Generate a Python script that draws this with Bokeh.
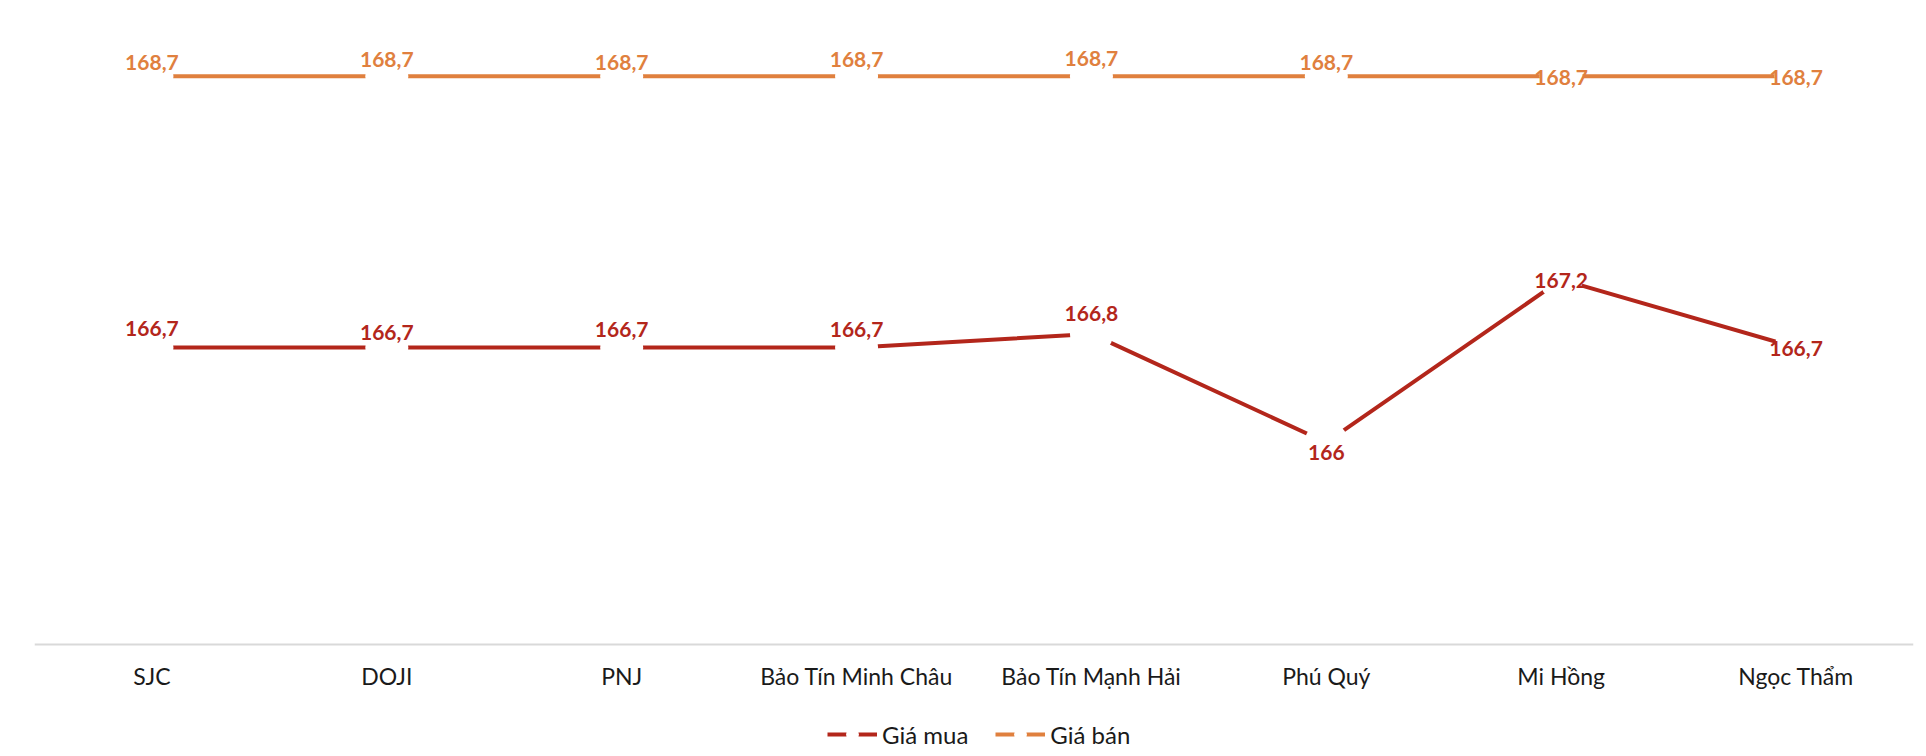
from bokeh.plotting import figure
from bokeh.models import ColumnDataSource, FactorRange, Range1d, Legend, LegendItem
from bokeh.core.properties import value
from bokeh.embed import file_html
from bokeh.resources import INLINE

# ---- data ----
categories = ["SJC", "DOJI", "PNJ", "Bảo Tín Minh Châu", "Bảo Tín Mạnh Hải",
              "Phú Quý", "Mi Hồng", "Ngọc Thẩm"]
gia_mua = [166.7, 166.7, 166.7, 166.7, 166.8, 166.0, 167.2, 166.7]
gia_ban = [168.7, 168.7, 168.7, 168.7, 168.7, 168.7, 168.7, 168.7]
series_names = ["Giá mua", "Giá bán"]

# ---- label placement (screen px, positive = down) ----
mua_label_dy = [-19, -15, -18, -18, -20, 10, 1, 1]
ban_label_dy = [-14, -17, -14, -17, -18, -14, 1, 1]

Y_AXIS_BASE = 164.511   # where the category axis line sits

RED = "#B3261B"
ORANGE = "#E0803E"
TEXT = "#1a1a1a"


def fmt(v):
    return f"{v:g}".replace(".", ",")


src_mua = ColumnDataSource(dict(cat=categories, val=gia_mua,
                                lab=[fmt(v) for v in gia_mua], dy=mua_label_dy))
src_ban = ColumnDataSource(dict(cat=categories, val=gia_ban,
                                lab=[fmt(v) for v in gia_ban], dy=ban_label_dy))

p = figure(x_range=FactorRange(*categories, range_padding=0),
           y_range=Range1d(163.744, 169.258),
           width=1918, height=748,
           output_backend="svg", toolbar_location=None,
           y_axis_location=None,
           min_border_left=34, min_border_right=5,
           min_border_top=0, min_border_bottom=0)

p.xgrid.visible = False
p.ygrid.visible = False
p.outline_line_color = None
p.background_fill_color = "white"
p.border_fill_color = "white"

ax = p.xaxis[0]
ax.fixed_location = Y_AXIS_BASE
ax.axis_line_color = "#d9d9d9"
ax.axis_line_width = 2
ax.major_tick_line_color = None
ax.minor_tick_line_color = None
ax.major_tick_out = 0
ax.major_tick_in = 0
ax.major_label_text_font = "Lato"
ax.major_label_text_font_size = "23px"
ax.major_label_text_color = TEXT
ax.major_label_standoff = 18

# lines
l_ban = p.line("cat", "val", source=src_ban, line_color=ORANGE, line_width=4)
l_mua = p.line("cat", "val", source=src_mua, line_color=RED, line_width=4)

# white markers that break the lines around each point
d_ban = p.scatter("cat", "val", source=src_ban, size=43, marker="circle",
                  fill_color="white", line_color=None)
d_mua = p.scatter("cat", "val", source=src_mua, size=43, marker="circle",
                  fill_color="white", line_color=None)

# data labels
for src, col in ((src_ban, ORANGE), (src_mua, RED)):
    p.text(x="cat", y="val", text="lab", source=src, y_offset="dy",
           text_font=value("Lato"), text_font_style="bold",
           text_font_size=value("21px"), text_color=col,
           text_align="center", text_baseline="middle")

legend = Legend(items=[LegendItem(label=series_names[0], renderers=[l_mua, d_mua]),
                       LegendItem(label=series_names[1], renderers=[l_ban, d_ban])],
                location=(793, -2), orientation="horizontal",
                glyph_width=50, glyph_height=32, label_standoff=5, spacing=27,
                padding=0, margin=0, border_line_color=None,
                background_fill_alpha=0,
                label_text_font="Lato", label_text_font_size="24px",
                label_text_color=TEXT)
p.add_layout(legend)

open("out.html", "w").write(file_html(p, INLINE))
